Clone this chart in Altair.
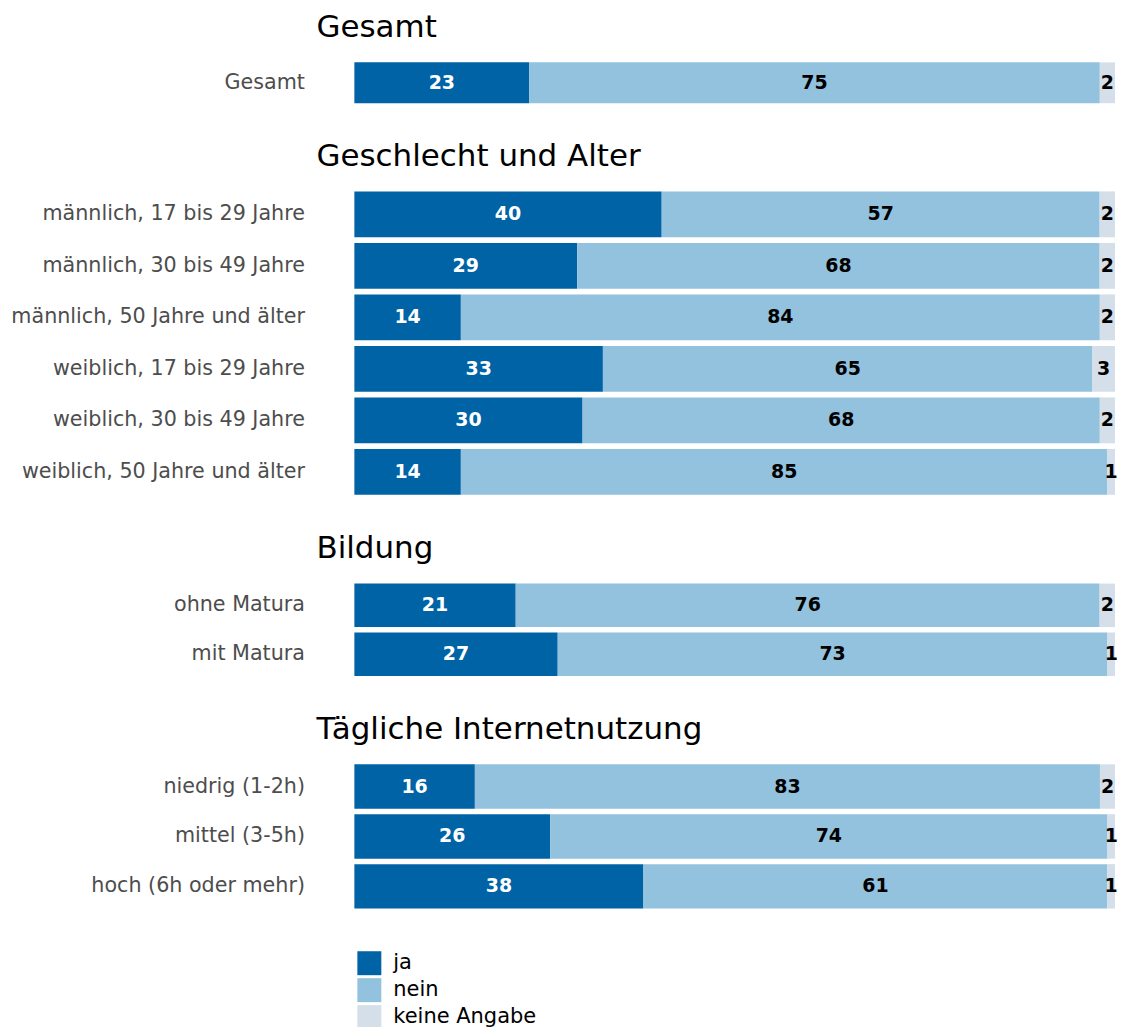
import altair as alt
import pandas as pd

# ---- data ----
categories = ["ja", "nein", "keine Angabe"]
colors = ["#0063a6", "#92c2de", "#d5dfea"]

groups = ["Gesamt", "Geschlecht und Alter", "Bildung", "Tägliche Internetnutzung"]

rows = [
    "Gesamt",
    "männlich, 17 bis 29 Jahre",
    "männlich, 30 bis 49 Jahre",
    "männlich, 50 Jahre und älter",
    "weiblich, 17 bis 29 Jahre",
    "weiblich, 30 bis 49 Jahre",
    "weiblich, 50 Jahre und älter",
    "ohne Matura",
    "mit Matura",
    "niedrig (1-2h)",
    "mittel (3-5h)",
    "hoch (6h oder mehr)",
]
row_group = [
    "Gesamt",
    "Geschlecht und Alter", "Geschlecht und Alter", "Geschlecht und Alter",
    "Geschlecht und Alter", "Geschlecht und Alter", "Geschlecht und Alter",
    "Bildung", "Bildung",
    "Tägliche Internetnutzung", "Tägliche Internetnutzung", "Tägliche Internetnutzung",
]
ja = [23, 40, 29, 14, 33, 30, 14, 21, 27, 16, 26, 38]
nein = [75, 57, 68, 84, 65, 68, 85, 76, 73, 83, 74, 61]
keine = [2, 2, 2, 2, 3, 2, 1, 2, 1, 2, 1, 1]

records = []
for i, r in enumerate(rows):
    for k, (cat, vals) in enumerate(zip(categories, [ja, nein, keine])):
        records.append({"group": row_group[i], "row": r, "cat": cat,
                        "ord": k, "value": vals[i]})
df = pd.DataFrame(records)

steps = {"Gesamt": 46, "Geschlecht und Alter": 51.6, "Bildung": 49,
         "Tägliche Internetnutzung": 50}

FONT = "DejaVu Sans"


def panel(g):
    row_order = [r for r, gg in zip(rows, row_group) if gg == g]
    base = alt.Chart(df).transform_filter(
        alt.datum.group == g
    ).transform_joinaggregate(
        total="sum(value)", groupby=["row"]
    ).transform_window(
        cum="sum(value)", sort=[alt.SortField("ord")], groupby=["row"],
        frame=[None, 0]
    ).transform_calculate(
        start="(datum.cum - datum.value) / datum.total",
        end="datum.cum / datum.total",
        mid="(datum.cum - datum.value / 2) / datum.total",
    )
    y = alt.Y("row:N", sort=row_order, title=None,
              scale=alt.Scale(paddingInner=0.11, paddingOuter=0.055),
              axis=alt.Axis(domain=False, ticks=False, labelPadding=50,
                            labelFontSize=20.7, labelColor="#4d4d4d",
                            labelFont=FONT, labelLimit=500))
    bars = base.mark_bar().encode(
        x=alt.X("start:Q", scale=alt.Scale(domain=[0, 1]), axis=None),
        x2="end:Q",
        y=y,
        color=alt.Color("cat:N", sort=categories,
                        scale=alt.Scale(domain=categories, range=colors),
                        legend=alt.Legend(title=None)),
    )
    text = base.mark_text(fontWeight="bold", fontSize=19, font=FONT,
                          baseline="middle").encode(
        x=alt.X("mid:Q", scale=alt.Scale(domain=[0, 1]), axis=None),
        y=alt.Y("row:N", sort=row_order),
        text=alt.Text("value:Q", format="d"),
        color=alt.condition(alt.datum.cat == "ja", alt.value("white"),
                            alt.value("black")),
    )
    return alt.layer(bars, text).properties(
        width=762,
        height=alt.Step(steps[g]),
        title=alt.TitleParams(text=g, anchor="start", frame="group", dx=-38,
                              fontSize=31, fontWeight="normal", font=FONT,
                              color="black", offset=16),
    )


chart = alt.vconcat(*[panel(g) for g in groups], spacing=35).resolve_scale(
    y="independent"
).properties(
    padding={"left": 10, "top": 11, "right": 5, "bottom": 5}
).configure_view(stroke=None).configure_legend(
    orient="none", legendX=3, legendY=893, direction="vertical",
    symbolType="square", symbolSize=576, symbolStrokeWidth=0,
    labelFontSize=21, labelColor="black", labelFont=FONT,
    rowPadding=3, labelOffset=12,
)

chart.save("out.html", embed_options={"renderer": "svg", "actions": False})
